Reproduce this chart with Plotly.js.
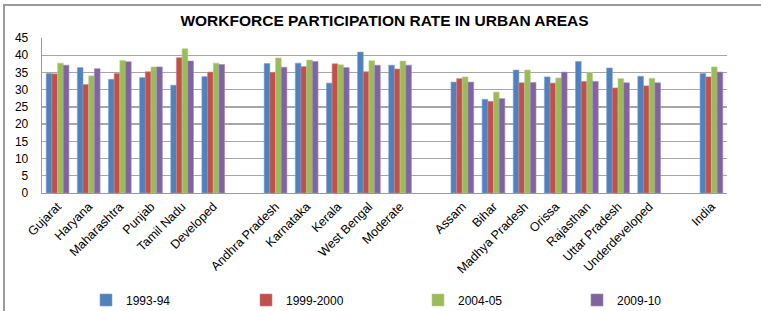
<!DOCTYPE html>
<html>
<head>
<meta charset="utf-8">
<script src="https://cdn.plot.ly/plotly-3.0.1.min.js"></script>
<style>
  html, body { margin: 0; padding: 0; background: #fff; }
  #wrap { position: relative; width: 761px; height: 311px; }
  #chart { position: absolute; left: 0; top: 0; width: 761px; height: 311px; }
  #frame { position: absolute; left: 3px; top: 4px; width: 770px; height: 320px;
           border-left: 2px solid #9a9a9a; border-top: 2px solid #9a9a9a; pointer-events: none; }
</style>
</head>
<body>
<div id="wrap">
  <div id="chart"></div>
  <div id="frame"></div>
</div>
<script>
// Categories ("" = blank spacer slot between groups)
const categories = [
  "Gujarat", "Haryana", "Maharashtra", "Punjab", "Tamil Nadu", "Developed", "",
  "Andhra Pradesh", "Karnataka", "Kerala", "West Bengal", "Moderate", "",
  "Assam", "Bihar", "Madhya Pradesh", "Orissa", "Rajasthan", "Uttar Pradesh", "Underdeveloped", "",
  "India"
];
const seriesNames = ["1993-94", "1999-2000", "2004-05", "2009-10"];
const v1993 = [34.7, 36.4, 33.0, 33.5, 31.3, 33.8, null,
               37.6, 37.7, 31.9, 40.9, 37.1, null,
               32.2, 27.2, 35.7, 33.7, 38.2, 36.3, 33.9, null,
               34.7];
const v1999 = [34.6, 31.5, 34.7, 35.2, 39.3, 35.1, null,
               35.0, 36.7, 37.5, 35.2, 36.0, null,
               33.2, 26.6, 32.0, 31.9, 32.4, 30.5, 31.1, null,
               33.7];
const v2004 = [37.7, 34.0, 38.5, 36.6, 41.9, 37.7, null,
               39.2, 38.6, 37.2, 38.4, 38.3, null,
               33.7, 29.3, 35.7, 33.4, 35.0, 33.2, 33.3, null,
               36.6];
const v2009 = [37.1, 36.1, 38.1, 36.6, 38.3, 37.3, null,
               36.5, 38.2, 36.4, 37.1, 37.1, null,
               32.2, 27.4, 32.1, 35.1, 32.4, 32.0, 32.0, null,
               35.1];
const yTicks = [0, 5, 10, 15, 20, 25, 30, 35, 40, 45];

const seriesValues = [v1993, v1999, v2004, v2009];
const colors = ["#4F81BD", "#C0504D", "#9BBB59", "#8064A2"];
const edgeColors = ["#7ea3d3", "#d47e7b", "#b8d186", "#a08cc0"];
const legendIds = ["legend", "legend2", "legend3", "legend4"];
const legendXpx = [86, 246, 418, 577];

const xIdx = categories.map((c, i) => i);
const tickIdx = xIdx.filter(i => categories[i] !== "");
const tickTxt = tickIdx.map(i => categories[i]);

const traces = seriesNames.map((name, k) => ({
  type: "bar",
  name: name,
  x: xIdx,
  y: seriesValues[k],
  legend: legendIds[k],
  marker: { color: colors[k], line: { color: edgeColors[k], width: 0.6 } },
  hoverinfo: "x+y+name"
}));

const font = "Liberation Sans, Arial, sans-serif";
const W = 761, H = 311;
const layout = {
  width: W, height: H,
  paper_bgcolor: "#ffffff", plot_bgcolor: "#ffffff",
  margin: { l: 42, r: 34, t: 38, b: 118 },
  font: { family: font, size: 11, color: "#000" },
  title: {
    text: "<b>WORKFORCE PARTICIPATION RATE IN URBAN AREAS</b>",
    font: { family: font, size: 15.5, color: "#000" },
    x: 0.5, xanchor: "center", xref: "paper", y: 0.935, yanchor: "middle"
  },
  barmode: "group",
  bargap: 0.27,
  bargroupgap: 0,
  xaxis: {
    type: "linear",
    range: [-0.5, categories.length - 0.5],
    tickmode: "array", tickvals: tickIdx, ticktext: tickTxt,
    tickangle: -45,
    tickfont: { family: font, size: 12.5, color: "#000" },
    showgrid: false, zeroline: false,
    showline: true, linecolor: "#9a9a9a", linewidth: 1.3,
    ticks: "", fixedrange: true, automargin: false
  },
  yaxis: {
    range: [0, 45],
    tickmode: "array", tickvals: yTicks, ticktext: yTicks.map(String),
    tickfont: { family: font, size: 12, color: "#000" },
    showgrid: true, gridcolor: "#a6a6a6", gridwidth: 1.3,
    zeroline: false,
    showline: true, linecolor: "#9a9a9a", linewidth: 1.3,
    ticks: "outside", ticklen: 0, ticklabelstandoff: 10,
    fixedrange: true, automargin: false
  },
  showlegend: true
};
legendIds.forEach((id, k) => {
  layout[id] = {
    xref: "container", yref: "container",
    x: legendXpx[k] / W, xanchor: "left", y: 1 - 300 / H, yanchor: "middle",
    orientation: "h", bgcolor: "rgba(0,0,0,0)",
    font: { family: font, size: 12, color: "#000" },
    itemwidth: 30
  };
});

Plotly.newPlot("chart", traces, layout, { displayModeBar: false, staticPlot: true });
</script>
</body>
</html>
